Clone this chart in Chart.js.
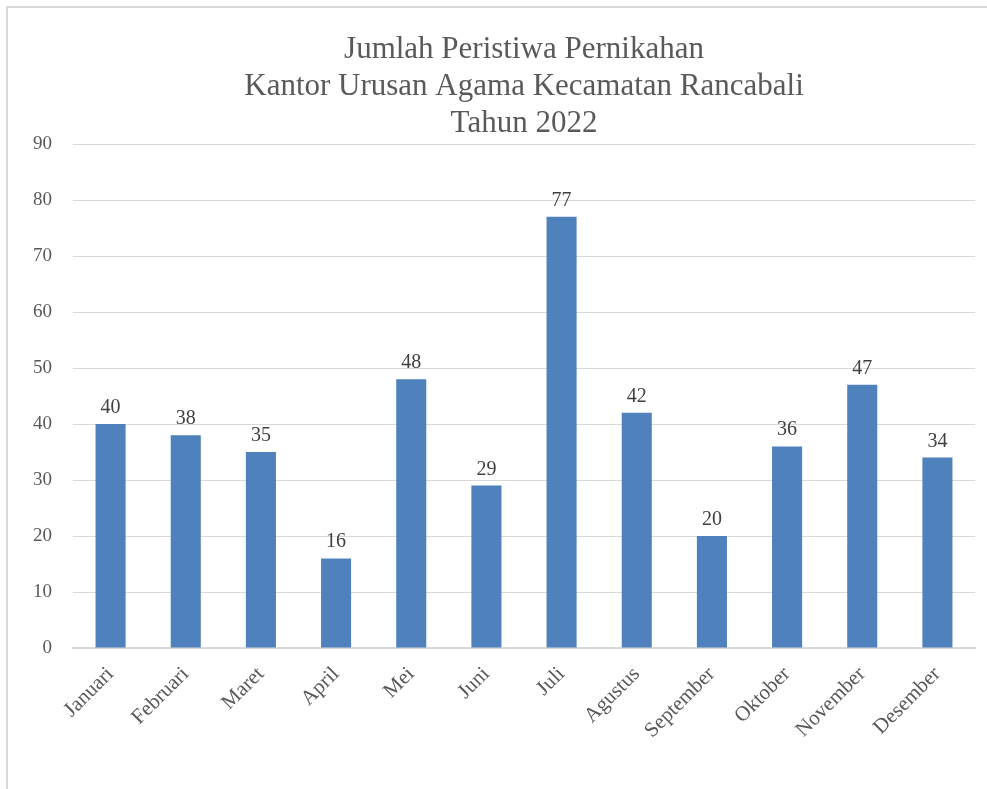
<!DOCTYPE html>
<html>
<head>
<meta charset="utf-8">
<script src="https://cdn.jsdelivr.net/npm/chart.js@4.4.0/dist/chart.umd.min.js"></script>
<style>
  html, body { margin: 0; padding: 0; background: #fff; overflow: hidden; }
  #frame {
    position: absolute; left: 6px; top: 6px; width: 1200px; height: 1200px;
    border: 2px solid #d9d9d9;
  }
  #wrap { position: absolute; left: 0; top: 0; width: 987px; height: 789px; }
</style>
</head>
<body>
<div id="frame"></div>
<div id="wrap"><canvas id="marriage-chart" width="987" height="789"></canvas></div>
<script>
// Monthly marriage counts, KUA Rancabali 2022
const months = ['Januari', 'Februari', 'Maret', 'April', 'Mei', 'Juni', 'Juli',
  'Agustus', 'September', 'Oktober', 'November', 'Desember'];
const marriages = [40, 38, 35, 16, 48, 29, 77, 42, 20, 36, 47, 34];
const yTicks = [0, 10, 20, 30, 40, 50, 60, 70, 80, 90];
const titleLines = ['Jumlah Peristiwa Pernikahan', 'Kantor Urusan Agama Kecamatan Rancabali', 'Tahun 2022'];

const serif = "'Liberation Serif', 'DejaVu Serif', serif";
const textColor = '#595959';

// draws the value above each bar
const valueLabels = {
  id: 'valueLabels',
  afterDatasetsDraw(chart) {
    const ctx = chart.ctx;
    const meta = chart.getDatasetMeta(0);
    ctx.save();
    ctx.font = '20px ' + serif;
    ctx.fillStyle = '#404040';
    ctx.textAlign = 'center';
    ctx.textBaseline = 'alphabetic';
    meta.data.forEach((bar, i) => {
      ctx.fillText(String(marriages[i]), bar.x, bar.y - 11);
    });
    ctx.restore();
  }
};

const ctx = document.getElementById('marriage-chart').getContext('2d');
new Chart(ctx, {
  type: 'bar',
  data: {
    labels: months,
    datasets: [{
      label: 'Jumlah',
      data: marriages,
      backgroundColor: '#4f81bd',
      borderWidth: 0,
      categoryPercentage: 1,
      barPercentage: 0.4
    }]
  },
  options: {
    responsive: false,
    animation: false,
    layout: {
      padding: { left: 0, right: 12, top: 0, bottom: 0 }
    },
    plugins: {
      legend: { display: false },
      tooltip: { enabled: false },
      title: {
        display: true,
        fullSize: false,
        text: titleLines,
        color: textColor,
        font: { family: serif, size: 31, weight: 'normal', lineHeight: '37px' },
        padding: { top: 31, bottom: 2 }
      }
    },
    scales: {
      x: {
        grid: { display: false },
        border: { color: '#d9d9d9', width: 2 },
        ticks: {
          color: textColor,
          font: { family: serif, size: 21 },
          autoSkip: false,
          minRotation: 45,
          maxRotation: 45,
          padding: 6
        },
        afterFit(scale) { scale.height = 141; }
      },
      y: {
        min: 0,
        max: 90,
        afterBuildTicks(scale) { scale.ticks = yTicks.map(v => ({ value: v })); },
        grid: { color: '#d9d9d9', lineWidth: 1, drawTicks: false },
        border: { display: false },
        ticks: {
          color: textColor,
          font: { family: serif, size: 19 },
          padding: 21
        },
        afterFit(scale) { scale.width = 73; }
      }
    }
  },
  plugins: [valueLabels]
});
</script>
</body>
</html>
